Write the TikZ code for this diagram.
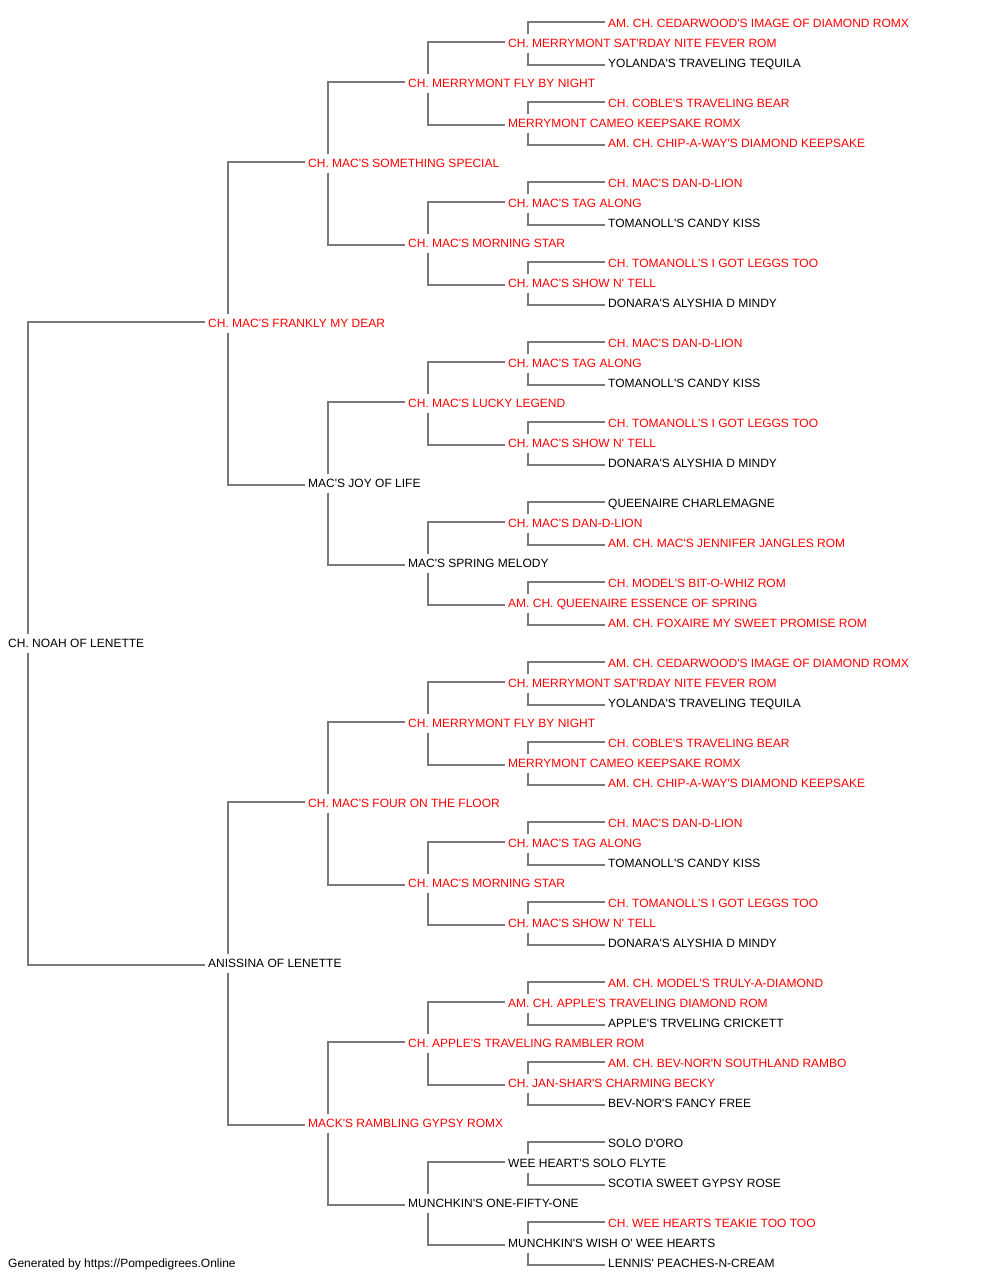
\documentclass[tikz,border=0pt]{standalone}
\usepackage{fontspec}
\newfontfamily\pedfont[Ligatures=ResetAll]{Liberation Sans}
\usetikzlibrary{calc}
\definecolor{linegray}{RGB}{122,122,122}
\tikzset{
    dog/.style = {anchor=west, inner xsep=3pt, inner ysep=4.7pt,
        text height=8.6pt, text depth=0pt,
        font=\pedfont\fontsize{12}{14}\selectfont},
    champ/.style = {dog, text=red},
    link/.style = {draw, line width=2pt, linegray}
}

\begin{document}
\begin{tikzpicture}[x=1pt,y=-1pt]
    \useasboundingbox (0,0) rectangle (1000,1280);
    % sire / dam
    \node[dog] (n1) at (5,643.5) {CH. NOAH OF LENETTE};
    \node[champ] (n2) at (205,323.5) {CH. MAC'S FRANKLY MY DEAR};
    \node[dog] (n3) at (205,963.5) {ANISSINA OF LENETTE};
    % grandparents
    \node[champ] (n4) at (305,163.5) {CH. MAC'S SOMETHING SPECIAL};
    \node[dog] (n5) at (305,483.5) {MAC'S JOY OF LIFE};
    \node[champ] (n6) at (305,803.5) {CH. MAC'S FOUR ON THE FLOOR};
    \node[champ] (n7) at (305,1123.5) {MACK'S RAMBLING GYPSY ROMX};
    % great-grandparents
    \node[champ] (n8) at (405,83.5) {CH. MERRYMONT FLY BY NIGHT};
    \node[champ] (n9) at (405,243.5) {CH. MAC'S MORNING STAR};
    \node[champ] (n10) at (405,403.5) {CH. MAC'S LUCKY LEGEND};
    \node[dog] (n11) at (405,563.5) {MAC'S SPRING MELODY};
    \node[champ] (n12) at (405,723.5) {CH. MERRYMONT FLY BY NIGHT};
    \node[champ] (n13) at (405,883.5) {CH. MAC'S MORNING STAR};
    \node[champ] (n14) at (405,1043.5) {CH. APPLE'S TRAVELING RAMBLER ROM};
    \node[dog] (n15) at (405,1203.5) {MUNCHKIN'S ONE-FIFTY-ONE};
    % generation 4
    \node[champ] (n16) at (505,43.5) {CH. MERRYMONT SAT'RDAY NITE FEVER ROM};
    \node[champ] (n17) at (505,123.5) {MERRYMONT CAMEO KEEPSAKE ROMX};
    \node[champ] (n18) at (505,203.5) {CH. MAC'S TAG ALONG};
    \node[champ] (n19) at (505,283.5) {CH. MAC'S SHOW N' TELL};
    \node[champ] (n20) at (505,363.5) {CH. MAC'S TAG ALONG};
    \node[champ] (n21) at (505,443.5) {CH. MAC'S SHOW N' TELL};
    \node[champ] (n22) at (505,523.5) {CH. MAC'S DAN-D-LION};
    \node[champ] (n23) at (505,603.5) {AM. CH. QUEENAIRE ESSENCE OF SPRING};
    \node[champ] (n24) at (505,683.5) {CH. MERRYMONT SAT'RDAY NITE FEVER ROM};
    \node[champ] (n25) at (505,763.5) {MERRYMONT CAMEO KEEPSAKE ROMX};
    \node[champ] (n26) at (505,843.5) {CH. MAC'S TAG ALONG};
    \node[champ] (n27) at (505,923.5) {CH. MAC'S SHOW N' TELL};
    \node[champ] (n28) at (505,1003.5) {AM. CH. APPLE'S TRAVELING DIAMOND ROM};
    \node[champ] (n29) at (505,1083.5) {CH. JAN-SHAR'S CHARMING BECKY};
    \node[dog] (n30) at (505,1163.5) {WEE HEART'S SOLO FLYTE};
    \node[dog] (n31) at (505,1243.5) {MUNCHKIN'S WISH O' WEE HEARTS};
    % generation 5
    \node[champ] (n32) at (605,23.5) {AM. CH. CEDARWOOD'S IMAGE OF DIAMOND ROMX};
    \node[dog] (n33) at (605,63.5) {YOLANDA'S TRAVELING TEQUILA};
    \node[champ] (n34) at (605,103.5) {CH. COBLE'S TRAVELING BEAR};
    \node[champ] (n35) at (605,143.5) {AM. CH. CHIP-A-WAY'S DIAMOND KEEPSAKE};
    \node[champ] (n36) at (605,183.5) {CH. MAC'S DAN-D-LION};
    \node[dog] (n37) at (605,223.5) {TOMANOLL'S CANDY KISS};
    \node[champ] (n38) at (605,263.5) {CH. TOMANOLL'S I GOT LEGGS TOO};
    \node[dog] (n39) at (605,303.5) {DONARA'S ALYSHIA D MINDY};
    \node[champ] (n40) at (605,343.5) {CH. MAC'S DAN-D-LION};
    \node[dog] (n41) at (605,383.5) {TOMANOLL'S CANDY KISS};
    \node[champ] (n42) at (605,423.5) {CH. TOMANOLL'S I GOT LEGGS TOO};
    \node[dog] (n43) at (605,463.5) {DONARA'S ALYSHIA D MINDY};
    \node[dog] (n44) at (605,503.5) {QUEENAIRE CHARLEMAGNE};
    \node[champ] (n45) at (605,543.5) {AM. CH. MAC'S JENNIFER JANGLES ROM};
    \node[champ] (n46) at (605,583.5) {CH. MODEL'S BIT-O-WHIZ ROM};
    \node[champ] (n47) at (605,623.5) {AM. CH. FOXAIRE MY SWEET PROMISE ROM};
    \node[champ] (n48) at (605,663.5) {AM. CH. CEDARWOOD'S IMAGE OF DIAMOND ROMX};
    \node[dog] (n49) at (605,703.5) {YOLANDA'S TRAVELING TEQUILA};
    \node[champ] (n50) at (605,743.5) {CH. COBLE'S TRAVELING BEAR};
    \node[champ] (n51) at (605,783.5) {AM. CH. CHIP-A-WAY'S DIAMOND KEEPSAKE};
    \node[champ] (n52) at (605,823.5) {CH. MAC'S DAN-D-LION};
    \node[dog] (n53) at (605,863.5) {TOMANOLL'S CANDY KISS};
    \node[champ] (n54) at (605,903.5) {CH. TOMANOLL'S I GOT LEGGS TOO};
    \node[dog] (n55) at (605,943.5) {DONARA'S ALYSHIA D MINDY};
    \node[champ] (n56) at (605,983.5) {AM. CH. MODEL'S TRULY-A-DIAMOND};
    \node[dog] (n57) at (605,1023.5) {APPLE'S TRVELING CRICKETT};
    \node[champ] (n58) at (605,1063.5) {AM. CH. BEV-NOR'N SOUTHLAND RAMBO};
    \node[dog] (n59) at (605,1103.5) {BEV-NOR'S FANCY FREE};
    \node[dog] (n60) at (605,1143.5) {SOLO D'ORO};
    \node[dog] (n61) at (605,1183.5) {SCOTIA SWEET GYPSY ROSE};
    \node[champ] (n62) at (605,1223.5) {CH. WEE HEARTS TEAKIE TOO TOO};
    \node[dog] (n63) at (605,1263.5) {LENNIS' PEACHES-N-CREAM};
    % footer
    \node[dog] (gen) at (5,1263.5) {Generated by https://Pompedigrees.Online};
    % parent -> sire / dam brackets
    \foreach \p in {1,...,31}{
        \pgfmathtruncatemacro\sire{2*\p}
        \pgfmathtruncatemacro\dam{2*\p+1}
        \draw[link] ([xshift=23pt]n\p.north west) |- ([yshift=1.5pt]n\sire.west);
        \draw[link] ([xshift=23pt]n\p.south west) |- ([yshift=-1pt]n\dam.west);
    }
\end{tikzpicture}
\end{document}
